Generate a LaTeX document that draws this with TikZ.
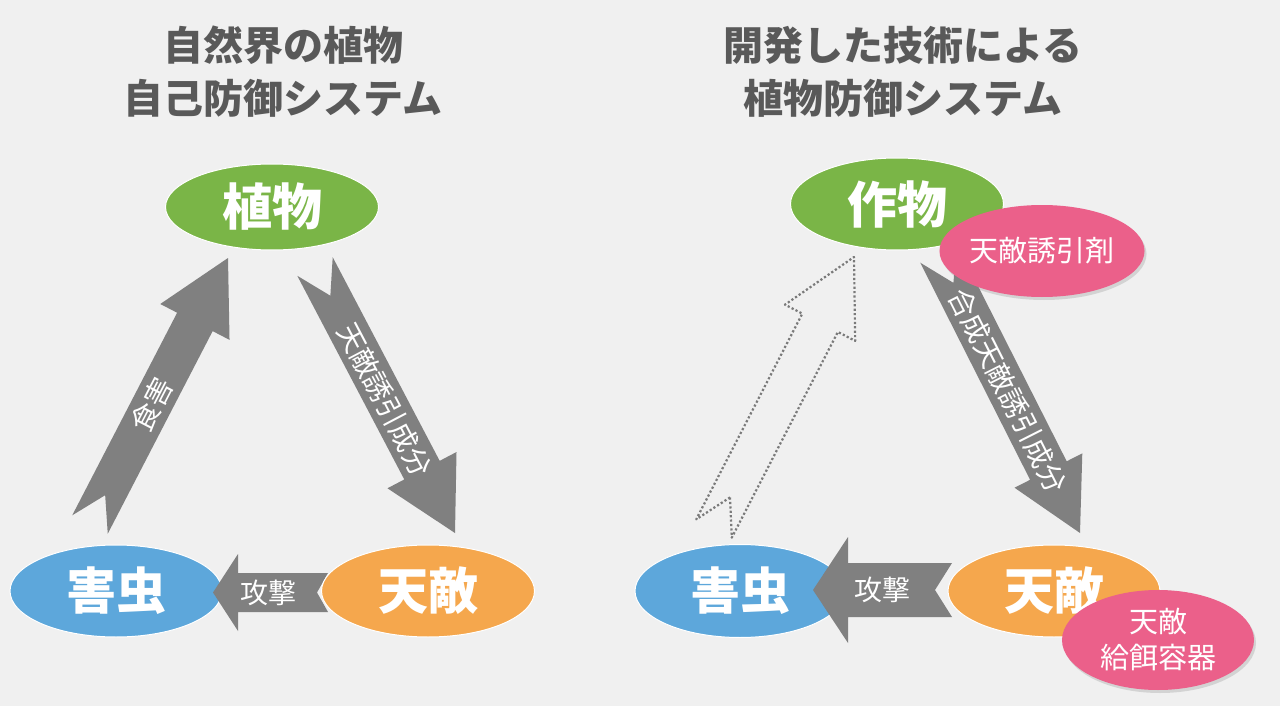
\documentclass[tikz,border=0pt]{standalone}
\usepackage{fontspec}
\setmainfont{Noto Sans CJK JP}
\usetikzlibrary{calc,shapes.geometric,shadows}

\definecolor{bgc}{RGB}{240,240,240}
\definecolor{leaf}{RGB}{122,181,71}
\definecolor{sky}{RGB}{93,167,219}
\definecolor{amber}{RGB}{245,167,77}
\definecolor{rose}{RGB}{235,96,138}
\definecolor{arrowgray}{RGB}{128,128,128}
\definecolor{titlegray}{RGB}{89,89,89}

\tikzset{
  blob/.style={ellipse, inner sep=0pt, draw=white, line width=1pt, text=white,
    font=\fontsize{50}{60}\selectfont\bfseries},
  tag/.style={ellipse, inner sep=0pt, fill=rose, text=white, align=center,
    font=\fontsize{29}{36}\selectfont,
    drop shadow={opacity=.25, shadow xshift=2pt, shadow yshift=-3pt}},
  heading/.style={align=center, text=titlegray, font=\fontsize{40}{53}\selectfont\bfseries},
  arrowfill/.style={fill=arrowgray},
  ghost/.style={draw=arrowgray!95!black, line width=2.2pt, dash pattern=on 2.2pt off 2.2pt, line join=round},
  arrowtext/.style={text=white, inner sep=0pt, font=\fontsize{28}{28}\selectfont},
}

% notched block arrow: [style]{tail}{tip}{shaft half}{head half}{head length}{notch}
\newcommand\blockarr[7][arrowfill]{%
  \coordinate (h) at ($(#3)!#6!(#2)$);
  \path[#1] ($(#2)!#7!(#3)$) -- ($(#2)!#4!90:(#3)$) -- ($(h)!#4!90:(#3)$)
    -- ($(h)!#5!90:(#3)$) -- (#3) -- ($(h)!#5!-90:(#3)$)
    -- ($(h)!#4!-90:(#3)$) -- ($(#2)!#4!-90:(#3)$) -- cycle;
}

\begin{document}
\begin{tikzpicture}[x=1pt, y=-1pt]
\useasboundingbox (0,0) rectangle (1280,706);
\fill[bgc] (0,0) rectangle (1280,706);

\node[heading] (titleL) at (283,72) {自然界の植物\\自己防御システム};
\node[heading] (titleR) at (903,72) {開発した技術による\\植物防御システム};

% natural system
\node[blob, fill=leaf, minimum width=213pt, minimum height=86pt] (plant) at (272,207) {植物};
\node[blob, fill=sky, minimum width=212pt, minimum height=92pt] (pest) at (116,591) {害虫};

\coordinate (eatS) at (90,524.5);
\coordinate (eatT) at (228,258);
\coordinate (lureS) at (315,266.5);
\coordinate (lureT) at (455,533);
\coordinate (atkS) at (328,592.5);
\coordinate (atkT) at (213,592.5);

\blockarr{eatS}{eatT}{20pt}{39pt}{72pt}{33pt}
\blockarr{lureS}{lureT}{20pt}{39pt}{71pt}{33pt}
\blockarr{atkS}{atkT}{19.5pt}{38.5pt}{25pt}{11pt}
\path (eatS) -- (eatT) node[arrowtext, sloped, pos=.45] (eatLbl) {食害};
\path (lureS) -- (lureT) node[arrowtext, sloped, pos=.5] (lureLbl) {天敵誘引成分};
\path (atkS) -- (atkT) node[arrowtext, sloped, pos=.52] (atkLbl) {攻撃};

\node[blob, fill=amber, minimum width=213pt, minimum height=92pt] (enemy) at (428,591) {天敵};

% developed system
\node[blob, fill=leaf, minimum width=213pt, minimum height=92pt] (crop) at (897,204) {作物};
\node[blob, fill=sky, minimum width=210pt, minimum height=93pt] (pest2) at (740,591) {害虫};

\coordinate (dotS) at (714,528.5);
\coordinate (dotT) at (854,257);
\coordinate (synS) at (938.5,253.4);
\coordinate (synT) at (1080,533);
\coordinate (atk2S) at (952,590);
\coordinate (atk2T) at (813,590);

\blockarr[ghost]{dotS}{dotT}{20pt}{39.5pt}{74pt}{35pt}
\blockarr{synS}{synT}{20.5pt}{38pt}{70pt}{33pt}
\blockarr{atk2S}{atk2T}{27pt}{53pt}{35pt}{17pt}
\path (synS) -- (synT) node[arrowtext, sloped, pos=.49] (synLbl) {合成天敵誘引成分};
\path (atk2S) -- (atk2T) node[arrowtext, sloped, pos=.5] (atk2Lbl) {攻撃};

\node[blob, fill=amber, minimum width=212pt, minimum height=92pt] (enemy2) at (1054,591) {天敵};
\node[tag, minimum width=205pt, minimum height=92pt] (lure) at (1042,251) {天敵誘引剤};
\node[tag, minimum width=192pt, minimum height=100pt] (feeder) at (1158,640) {天敵\\給餌容器};

\end{tikzpicture}
\end{document}
